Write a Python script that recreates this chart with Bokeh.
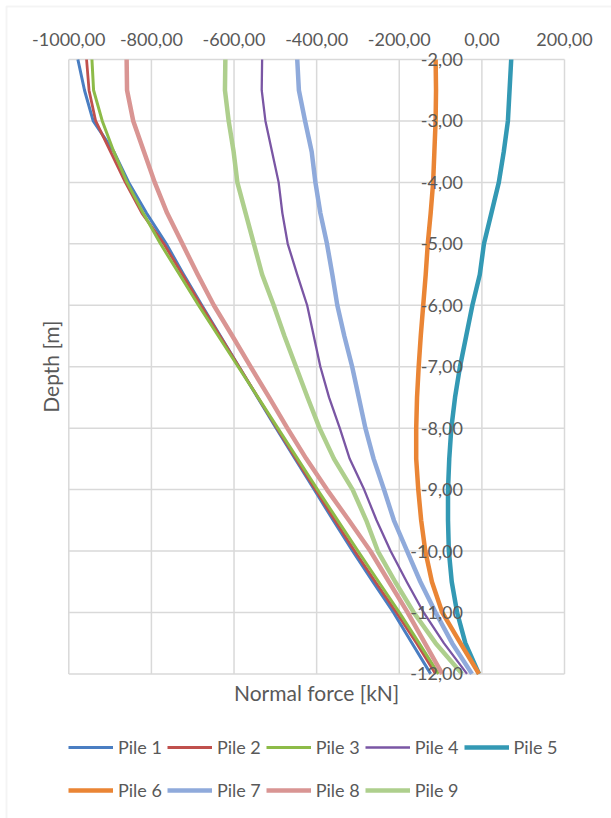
import math
from bokeh.plotting import figure
from bokeh.models import (Range1d, Legend, LegendItem, LabelSet, ColumnDataSource,
                          BoxAnnotation)
from bokeh.core.properties import value
from bokeh.embed import file_html
from bokeh.resources import INLINE

# ---------------- data ----------------
depth = [-2.0, -2.5, -3.0, -3.5, -4.0, -4.5, -5.0, -5.5, -6.0, -6.5, -7.0,
         -7.5, -8.0, -8.5, -9.0, -9.5, -10.0, -10.5, -11.0, -11.5, -12.0]

pile1 = [-978, -962, -941, -891, -855, -812, -764, -722, -678, -633, -588,
         -543, -498, -452, -406, -360, -313, -264, -214, -169, -124]
pile2 = [-957, -951, -935, -899, -863, -823, -770, -725, -680, -634, -588,
         -542, -496, -450, -403, -356, -308, -258, -207, -158, -112]
pile3 = [-944, -940, -919, -891, -859, -820, -778, -732, -686, -638, -590,
         -542, -494, -446, -398, -349, -300, -250, -200, -152, -105]
pile4 = [-532, -533, -524, -508, -492, -483, -470, -447, -423, -407, -391,
         -370, -344, -320, -285, -255, -221, -182, -141, -92, -36]
pile5 = [71, 67, 63, 53, 41, 23, 5, -5, -23, -38, -53,
         -65, -74, -79, -82, -82, -80, -73, -60, -40, -7]
pile6 = [-112, -111, -112, -115, -118, -124, -131, -136, -142, -148, -153,
         -157, -159, -159, -154, -147, -137, -121, -96, -52, -7]
pile7 = [-447, -443, -428, -412, -403, -391, -375, -362, -350, -333, -314,
         -298, -282, -262, -237, -213, -181, -149, -112, -72, -24]
pile8 = [-860, -859, -844, -818, -792, -762, -725, -688, -649, -604, -560,
         -515, -471, -425, -375, -322, -270, -225, -180, -138, -96]
pile9 = [-621, -622, -613, -601, -592, -572, -552, -532, -504, -478, -450,
         -422, -393, -358, -313, -280, -252, -210, -165, -112, -48]

series_names = ["Pile 1", "Pile 2", "Pile 3", "Pile 4", "Pile 5",
                "Pile 6", "Pile 7", "Pile 8", "Pile 9"]
series_values = [pile1, pile2, pile3, pile4, pile5, pile6, pile7, pile8, pile9]

x_ticks = [-1000, -800, -600, -400, -200, 0, 200]
x_tick_labels = ["-1000,00", "-800,00", "-600,00", "-400,00", "-200,00", "0,00", "200,00"]
y_ticks = [-2, -3, -4, -5, -6, -7, -8, -9, -10, -11, -12]
y_tick_labels = ["-2,00", "-3,00", "-4,00", "-5,00", "-6,00", "-7,00",
                 "-8,00", "-9,00", "-10,00", "-11,00", "-12,00"]
x_title = "Normal force [kN]"
y_title = "Depth [m]"

# ---------------- layout / styles ----------------
W, H = 611, 818
PX_LEFT, PX_RIGHT = 68.3, 564.0     # pixel columns of x = -1000 and x = 200
PX_TOP, PX_BOTTOM = 59.0, 673.4     # pixel rows of depth -2 and -12
colors = ["#4A7EC2", "#C0504D", "#8DBB48", "#7A56A4", "#3399B4",
          "#EA8535", "#8FAADB", "#D99593", "#AECF8D"]
widths = [3.0, 2.8, 3.0, 2.3, 4.5, 4.5, 4.5, 4.5, 4.5]
FONT = "Lato"
TXT = "#595959"
GRID = "#D9D9D9"

xmin, xmax = x_ticks[0], x_ticks[-1]
ytop, ybot = y_ticks[0], y_ticks[-1]
kx = (PX_RIGHT - PX_LEFT) / (xmax - xmin)
ky = (PX_BOTTOM - PX_TOP) / (ytop - ybot)
x0 = xmin - PX_LEFT / kx
y1 = ytop + PX_TOP / ky

p = figure(width=W, height=H, x_range=Range1d(x0, x0 + W / kx), y_range=Range1d(y1 - H / ky, y1),
           output_backend="svg", toolbar_location=None,
           x_axis_location=None, y_axis_location=None,
           min_border_left=0, min_border_right=0, min_border_top=0, min_border_bottom=0,
           background_fill_color="white", border_fill_color="white")
p.outline_line_color = None
p.grid.visible = False

# outer chart border (top and left edges visible)
p.add_layout(BoxAnnotation(left=6, right=W + 20, bottom=-20, top=H - 6,
                           left_units="screen", right_units="screen",
                           top_units="screen", bottom_units="screen",
                           fill_color=None, line_color=GRID, line_width=2))

# grid lines from the tick arrays
p.segment(x0=x_ticks, y0=[ytop] * len(x_ticks), x1=x_ticks, y1=[ybot] * len(x_ticks),
          line_color=GRID, line_width=1.5)
p.segment(x0=[xmin] * len(y_ticks), y0=y_ticks, x1=[xmax] * len(y_ticks), y1=y_ticks,
          line_color=GRID, line_width=1.5)

renderers = []
for name, vals, c, w in zip(series_names, series_values, colors, widths):
    r = p.line(x=vals, y=depth, line_color=c, line_width=w, line_join="round")
    renderers.append(r)

# x tick labels above the top grid line
xsrc = ColumnDataSource(dict(x=x_ticks, y=[ytop] * len(x_ticks), text=x_tick_labels))
p.add_layout(LabelSet(x="x", y="y", text="text", source=xsrc, y_offset=20,
                      text_align="center", text_baseline="middle",
                      text_font=value(FONT), text_font_size=value("18px"), text_color=TXT))

# y tick labels next to the x = 0 line
ysrc = ColumnDataSource(dict(x=[0] * len(y_ticks), y=y_ticks, text=y_tick_labels))
p.add_layout(LabelSet(x="x", y="y", text="text", source=ysrc, x_offset=-19,
                      text_align="right", text_baseline="middle",
                      text_font=value(FONT), text_font_size=value("18px"), text_color=TXT))

# axis titles
tsrc = ColumnDataSource(dict(x=[(xmin + xmax) / 2], y=[ybot], text=[x_title]))
p.add_layout(LabelSet(x="x", y="y", text="text", source=tsrc, y_offset=-19,
                      text_align="center", text_baseline="middle",
                      text_font=value(FONT), text_font_size=value("21px"), text_color=TXT))
vsrc = ColumnDataSource(dict(x=[xmin], y=[(ytop + ybot) / 2], text=[y_title]))
p.add_layout(LabelSet(x="x", y="y", text="text", source=vsrc, x_offset=-18, angle=math.pi / 2,
                      text_align="center", text_baseline="middle",
                      text_font=value(FONT), text_font_size=value("21px"), text_color=TXT))

# legend: two rows below the chart
items = [LegendItem(label=n, renderers=[r]) for n, r in zip(series_names, renderers)]
for chunk, vy in ((items[:5], 60), (items[5:], 17)):
    lg = Legend(items=chunk, orientation="horizontal", location=(68, vy),
                label_text_font=FONT, label_text_font_size="18px", label_text_color=TXT,
                glyph_width=45, glyph_height=20, label_height=20, label_standoff=5,
                spacing=5, padding=0, margin=0,
                border_line_color=None, background_fill_color=None)
    p.add_layout(lg, "center")

open("out.html", "w").write(file_html(p, INLINE))
